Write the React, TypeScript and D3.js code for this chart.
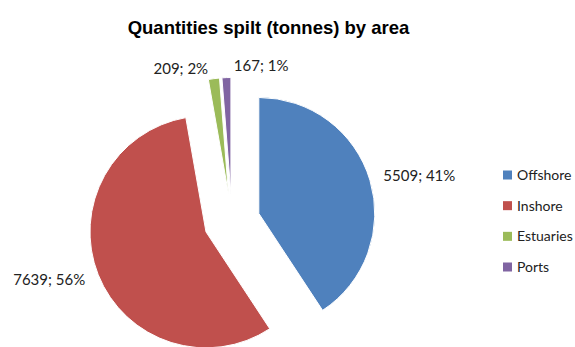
import React from "react";
import * as d3 from "d3";

const categories = ["Offshore", "Inshore", "Estuaries", "Ports"];
const values = [5509, 7639, 209, 167];
const percentLabels = ["41%", "56%", "2%", "1%"];
const colors = ["#4F81BD", "#C0504D", "#9BBB59", "#8064A2"];

const W = 575;
const H = 347;
const CX = 232;
const CY = 221.5;
const R = 116;
const EXPLODE = 28;
const LABEL_GAP = 14;
const labelAnchor = ["start", "end", "end", "start"];
const labelNudge: [number, number][] = [
  [0, 0],
  [0, 0],
  [-4, 4],
  [8, 2],
];

export default function App() {
  const pie = d3
    .pie<number>()
    .sort(null)
    .value((d) => d)
    .startAngle(0)
    .endAngle(2 * Math.PI);
  const arcs = pie(values);
  const arcGen = d3.arc<d3.PieArcDatum<number>>().innerRadius(0).outerRadius(R);

  const legendY = d3
    .scalePoint<string>()
    .domain(categories)
    .range([175, 267]);

  return (
    <svg
      width={W}
      height={H}
      style={{ position: "absolute", left: 0, top: 0, background: "#fff" }}
    >
      <text
        x={268.5}
        y={34}
        textAnchor="middle"
        fontFamily="Liberation Sans, Arial, sans-serif"
        fontWeight="bold"
        fontSize={18.5}
        fill="#000"
      >
        Quantities spilt (tonnes) by area
      </text>
      {arcs.map((a, i) => {
        const mid = (a.startAngle + a.endAngle) / 2;
        const ux = Math.sin(mid);
        const uy = -Math.cos(mid);
        const ax = CX + EXPLODE * ux;
        const ay = CY + EXPLODE * uy;
        const lx = ax + (R + LABEL_GAP) * ux + labelNudge[i][0];
        const ly = ay + (R + LABEL_GAP) * uy + labelNudge[i][1];
        return (
          <g key={categories[i]}>
            <path
              d={arcGen(a) || ""}
              transform={`translate(${ax},${ay})`}
              fill={colors[i]}
              stroke="#fff"
              strokeWidth={1}
            />
            <text
              x={lx}
              y={ly}
              dy="0.35em"
              textAnchor={labelAnchor[i]}
              fontFamily="Lato, Open Sans, sans-serif"
              fontSize={15}
              fill="#222"
            >
              {`${values[i]}; ${percentLabels[i]}`}
            </text>
          </g>
        );
      })}
      {categories.map((c, i) => (
        <g key={c} transform={`translate(503,${legendY(c)})`}>
          <rect x={0} y={-4.5} width={9} height={9} fill={colors[i]} />
          <text
            x={14}
            y={0}
            dy="0.35em"
            fontFamily="Lato, Open Sans, sans-serif"
            fontSize={14}
            fill="#222"
          >
            {c}
          </text>
        </g>
      ))}
    </svg>
  );
}
